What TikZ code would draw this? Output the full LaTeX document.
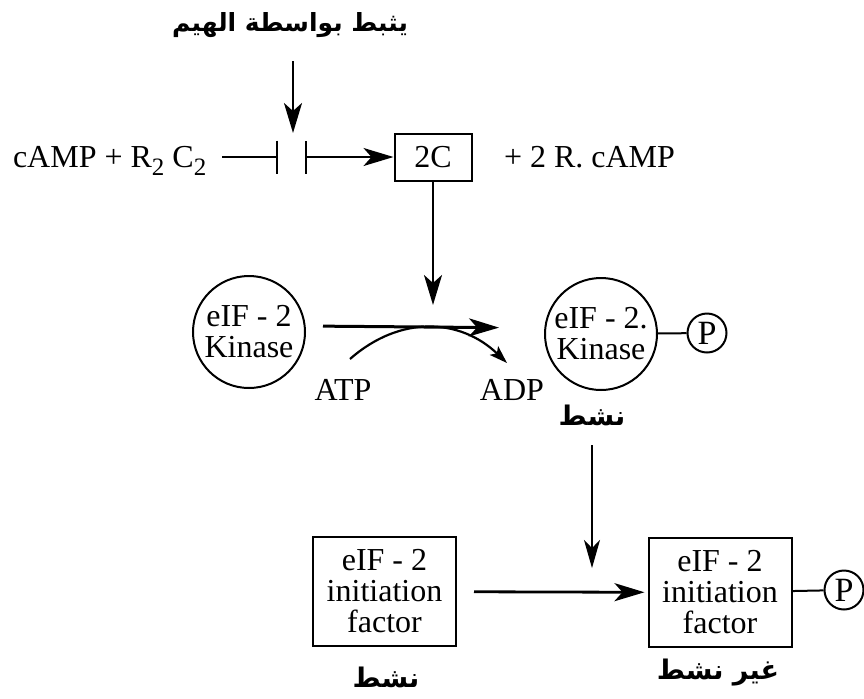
\documentclass[tikz,border=0pt]{standalone}
\usepackage{fontspec}
\setmainfont{Liberation Serif}
\newfontfamily\arabicfont[Script=Arabic]{DejaVu Sans}
\TeXXeTstate=1
\usetikzlibrary{arrows.meta}
\newcommand{\sub}[1]{\raisebox{-4pt}{\fontsize{12.5}{12.5}\selectfont #1}}
\newcommand{\ar}[1]{{\arabicfont\beginR #1\endR}}

\begin{document}
\begin{tikzpicture}[x=0.5pt, y=-0.5pt, line width=1pt,
    font=\fontsize{16}{15.5}\selectfont,
    arr/.style={-{Stealth[length=15pt, width=9pt, inset=4pt]}},
    thinarr/.style={line width=0.6pt, -{Stealth[length=14pt, width=8pt, inset=4pt]}},
    smallarr/.style={-{Stealth[length=9pt, width=6pt, inset=2pt]}},
    enzyme/.style={draw, circle, minimum size=56pt, inner sep=0pt, align=center},
    factor/.style={draw, rectangle, minimum width=71.5pt, minimum height=54.5pt, inner sep=0pt, align=center},
    phos/.style={draw, circle, minimum size=19.5pt, inner sep=0pt, font=\fontsize{17}{17}\selectfont},
    state/.style={font=\fontsize{13.5}{13.5}\selectfont\bfseries}]
  \useasboundingbox (0,0) rectangle (864,698);

  % 1. cAMP 与 R2C2
  \node[font=\fontsize{12.5}{12.5}\selectfont\bfseries] (heme) at (290,25) {\ar{يثبط بواسطة الهيم}};
  \coordinate (hemetip) at (293,133);
  \node[anchor=base west, inner sep=0pt] (camp) at (12,167) {cAMP + R\sub{2} C\sub{2}};
  \coordinate (barL) at (278,157);
  \coordinate (barR) at (305,157);
  \node[draw, minimum width=38.5pt, minimum height=23.5pt, inner sep=0pt] (twoC) at (433,157) {2C};
  \node[anchor=base west, inner sep=0pt] (rcamp) at (503,167) {+ 2 R. cAMP};

  \draw[arr, line width=1.2pt, shorten <=8pt] (heme.south -| hemetip) -- (hemetip);
  \draw[-{Bar[width=16.5pt]}, shorten <=7.5pt] (camp.east |- barL) -- (barL);
  \draw[{Bar[width=16.5pt]}-{Stealth[length=15pt, width=9pt, inset=4pt]}] (barR) -- (twoC);

  % 2. 激酶的磷酸化
  \node[enzyme] (kin1) at (249,332) {eIF - 2\\Kinase};
  \node[enzyme] (kin2) at (601,334) {eIF - 2.\\Kinase};
  \node[phos] (p1) at (707,333) {P};
  \node (atp) at (343,390) {ATP};
  \node (adp) at (512,390) {ADP};
  \node[state] (act1) at (592,415) {\ar{نشط}};
  \coordinate (down1) at (433,305);
  \coordinate (curveA) at (350,359);
  \coordinate (curveB) at (507,363);

  \draw[arr, line width=1.2pt] (twoC) -- (down1);
  \draw[arr, line width=1.5pt, shorten <=8.5pt, shorten >=22.5pt]
    ([yshift=3pt]kin1.east) -- ([yshift=3pt]kin2.west);
  \draw[smallarr, line width=1.1pt] (curveA) .. controls (400,315) and (460,318) .. (curveB);
  \draw (kin2) -- (p1);

  % 3. 起始因子
  \node[factor] (eif1) at (384.5,591.5) {eIF - 2\\initiation\\factor};
  \node[factor] (eif2) at (720,592.5) {eIF - 2\\initiation\\factor};
  \node[phos] (p2) at (844,590) {P};
  \node[state] (act2) at (386,677) {\ar{نشط}};
  \node[state] (inact) at (718,673) {\ar{غير نشط}};
  \coordinate (down2) at (592,568);

  \draw[thinarr, shorten <=6pt] (act1) -- (down2);
  \draw[arr, line width=1.4pt, shorten <=8.5pt, shorten >=1.5pt] (eif1) -- (eif2);
  \draw (eif2) -- (p2);
\end{tikzpicture}
\end{document}
